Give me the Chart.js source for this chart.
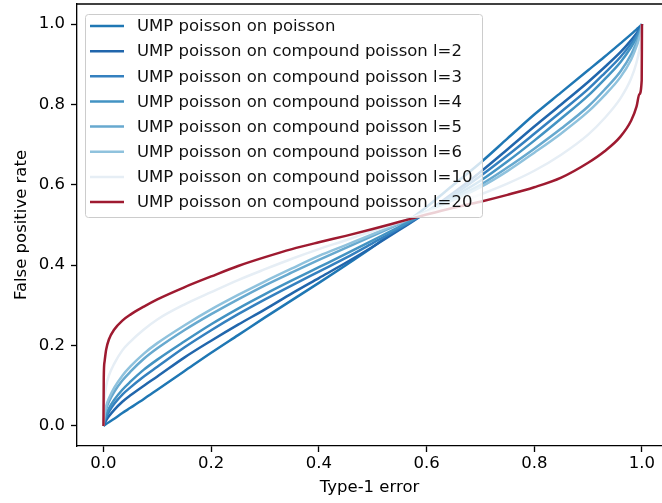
<!DOCTYPE html>
<html>
<head>
<meta charset="utf-8">
<script src="https://cdn.jsdelivr.net/npm/chart.js@4"></script>
<style>
  html, body { margin: 0; padding: 0; background: #fff; }
  canvas { display: block; }
</style>
</head>
<body>
<canvas id="roc" width="662" height="503"></canvas>
<script>
// Type-1 error sample points (shared x for all curves)
const typeErr = [0, 0.0005, 0.002, 0.005, 0.01, 0.02, 0.035, 0.05, 0.075, 0.1, 0.15, 0.2, 0.25, 0.3, 0.35, 0.4, 0.45, 0.5, 0.55, 0.6, 0.65, 0.7, 0.75, 0.8, 0.85, 0.9, 0.93, 0.96, 0.98, 0.99, 0.995, 0.9995, 1];

// False positive rate per curve
const fprPoisson = [0, 0.0005, 0.002, 0.005, 0.009, 0.018, 0.032, 0.045, 0.067, 0.09, 0.136, 0.182, 0.226, 0.27, 0.313, 0.356, 0.4, 0.445, 0.495, 0.545, 0.6, 0.655, 0.715, 0.775, 0.83, 0.885, 0.918, 0.952, 0.975, 0.987, 0.993, 0.999, 1];
const fprL2 = [0, 0.002, 0.007, 0.014, 0.024, 0.04, 0.06, 0.076, 0.1, 0.123, 0.17, 0.212, 0.252, 0.29, 0.33, 0.368, 0.406, 0.446, 0.488, 0.532, 0.58, 0.632, 0.688, 0.745, 0.8, 0.856, 0.892, 0.93, 0.96, 0.977, 0.987, 0.998, 1];
const fprL3 = [0, 0.004, 0.012, 0.022, 0.035, 0.055, 0.078, 0.096, 0.123, 0.147, 0.195, 0.238, 0.278, 0.315, 0.35, 0.384, 0.418, 0.455, 0.492, 0.532, 0.575, 0.622, 0.673, 0.727, 0.782, 0.838, 0.877, 0.918, 0.952, 0.972, 0.984, 0.997, 1];
const fprL4 = [0, 0.006, 0.016, 0.028, 0.043, 0.065, 0.09, 0.11, 0.14, 0.165, 0.21, 0.253, 0.292, 0.328, 0.362, 0.395, 0.428, 0.462, 0.496, 0.532, 0.57, 0.61, 0.658, 0.71, 0.765, 0.822, 0.862, 0.905, 0.943, 0.966, 0.98, 0.996, 1];
const fprL5 = [0, 0.01, 0.025, 0.042, 0.06, 0.085, 0.113, 0.135, 0.167, 0.193, 0.238, 0.278, 0.315, 0.35, 0.382, 0.413, 0.443, 0.473, 0.503, 0.534, 0.566, 0.6, 0.643, 0.69, 0.74, 0.795, 0.836, 0.882, 0.925, 0.955, 0.972, 0.994, 1];
const fprL6 = [0, 0.012, 0.03, 0.05, 0.068, 0.095, 0.125, 0.148, 0.18, 0.206, 0.25, 0.29, 0.326, 0.36, 0.392, 0.423, 0.45, 0.477, 0.505, 0.534, 0.562, 0.594, 0.634, 0.68, 0.728, 0.782, 0.822, 0.868, 0.912, 0.945, 0.965, 0.992, 1];
const fprL10 = [0, 0.04, 0.07, 0.1, 0.125, 0.155, 0.188, 0.21, 0.24, 0.265, 0.302, 0.333, 0.363, 0.39, 0.416, 0.44, 0.462, 0.485, 0.507, 0.53, 0.552, 0.576, 0.603, 0.635, 0.675, 0.725, 0.765, 0.815, 0.865, 0.905, 0.935, 0.98, 1];
const fprL20 = [0, 0.12, 0.16, 0.19, 0.215, 0.24, 0.262, 0.277, 0.297, 0.315, 0.345, 0.372, 0.398, 0.42, 0.44, 0.457, 0.473, 0.49, 0.508, 0.526, 0.543, 0.558, 0.575, 0.594, 0.618, 0.655, 0.683, 0.72, 0.76, 0.795, 0.825, 0.86, 1];

const seriesLabels = [
  'UMP poisson on poisson',
  'UMP poisson on compound poisson l=2',
  'UMP poisson on compound poisson l=3',
  'UMP poisson on compound poisson l=4',
  'UMP poisson on compound poisson l=5',
  'UMP poisson on compound poisson l=6',
  'UMP poisson on compound poisson l=10',
  'UMP poisson on compound poisson l=20'
];
const seriesValues = [fprPoisson, fprL2, fprL3, fprL4, fprL5, fprL6, fprL10, fprL20];
const seriesColors = ['#1f77b4', '#2166ac', '#3480bf', '#4393c3', '#67a9cf', '#8fc2dd', '#e6eef5', '#9e1a30'];

const xTicks = [0, 0.2, 0.4, 0.6, 0.8, 1.0];
const yTicks = [0, 0.2, 0.4, 0.6, 0.8, 1.0];
// visible x window (the figure is cut off on the right)
const xMin = -0.0492, xMax = 1.0372;

const FONT = 'DejaVu Sans';
const FS = 16.5;

// matplotlib-like legend box in upper left
const mplLegend = {
  id: 'mplLegend',
  afterDatasetsDraw(chart) {
    const ctx = chart.ctx;
    const x0 = 85, y0 = 14, w = 397, h = 203;
    ctx.save();
    ctx.beginPath();
    ctx.roundRect(x0 + 0.5, y0 + 0.5, w, h, 3);
    ctx.fillStyle = 'rgba(255,255,255,0.8)';
    ctx.fill();
    ctx.strokeStyle = '#cccccc';
    ctx.lineWidth = 1;
    ctx.stroke();
    ctx.font = FS + 'px "' + FONT + '"';
    ctx.textBaseline = 'middle';
    ctx.textAlign = 'left';
    chart.data.datasets.forEach((ds, i) => {
      const yy = 26 + i * 25.15;
      ctx.beginPath();
      ctx.moveTo(90, yy);
      ctx.lineTo(124, yy);
      ctx.strokeStyle = ds.borderColor;
      ctx.lineWidth = 2.5;
      ctx.stroke();
      ctx.fillStyle = '#111';
      ctx.fillText(ds.label, 137, yy + 1);
    });
    ctx.restore();
  }
};

// top spine
const spines = {
  id: 'spines',
  afterDraw(chart) {
    const a = chart.chartArea;
    const ctx = chart.ctx;
    ctx.save();
    ctx.strokeStyle = '#000';
    ctx.lineWidth = 1.33;
    ctx.beginPath();
    ctx.moveTo(a.left, a.top);
    ctx.lineTo(chart.width, a.top);
    ctx.stroke();
    ctx.restore();
  }
};

const datasets = seriesLabels.map((label, i) => ({
  label: label,
  data: typeErr.map((x, j) => ({ x: x, y: seriesValues[i][j] })),
  borderColor: seriesColors[i],
  backgroundColor: seriesColors[i],
  borderWidth: 2.5,
  pointRadius: 0,
  fill: false,
  cubicInterpolationMode: 'monotone',
  order: seriesLabels.length - i
}));

new Chart(document.getElementById('roc'), {
  type: 'line',
  data: { datasets: datasets },
  options: {
    responsive: false,
    animation: false,
    layout: { padding: { left: 0, top: 4, right: 0, bottom: 0 } },
    plugins: { legend: { display: false }, tooltip: { enabled: false } },
    scales: {
      x: {
        type: 'linear',
        min: xMin,
        max: xMax,
        afterBuildTicks: s => { s.ticks = xTicks.map(v => ({ value: v })); },
        afterFit: s => { s.height = 57; s.paddingLeft = 0; s.paddingRight = 0; },
        border: { display: true, color: '#000', width: 1.33 },
        grid: { drawOnChartArea: false, drawTicks: true, tickLength: 6, tickColor: '#000', tickWidth: 1.33 },
        ticks: {
          padding: 2,
          color: '#000',
          font: { family: FONT, size: FS },
          maxRotation: 0,
          callback: v => v.toFixed(1)
        },
        title: {
          display: true,
          text: 'Type-1 error',
          color: '#000',
          font: { family: FONT, size: FS },
          padding: { top: 0, bottom: 5 }
        }
      },
      y: {
        type: 'linear',
        min: -0.05,
        max: 1.05,
        afterBuildTicks: s => { s.ticks = yTicks.map(v => ({ value: v })); },
        afterFit: s => { s.width = 77; s.paddingTop = 0; s.paddingBottom = 0; },
        border: { display: true, color: '#000', width: 1.33 },
        grid: { drawOnChartArea: false, drawTicks: true, tickLength: 6, tickColor: '#000', tickWidth: 1.33 },
        ticks: {
          padding: 6,
          color: '#000',
          font: { family: FONT, size: FS },
          callback: v => v.toFixed(1)
        },
        title: {
          display: true,
          text: 'False positive rate',
          color: '#000',
          font: { family: FONT, size: FS },
          padding: { top: 12, bottom: 0 }
        }
      }
    }
  },
  plugins: [mplLegend, spines]
});
</script>
</body>
</html>
